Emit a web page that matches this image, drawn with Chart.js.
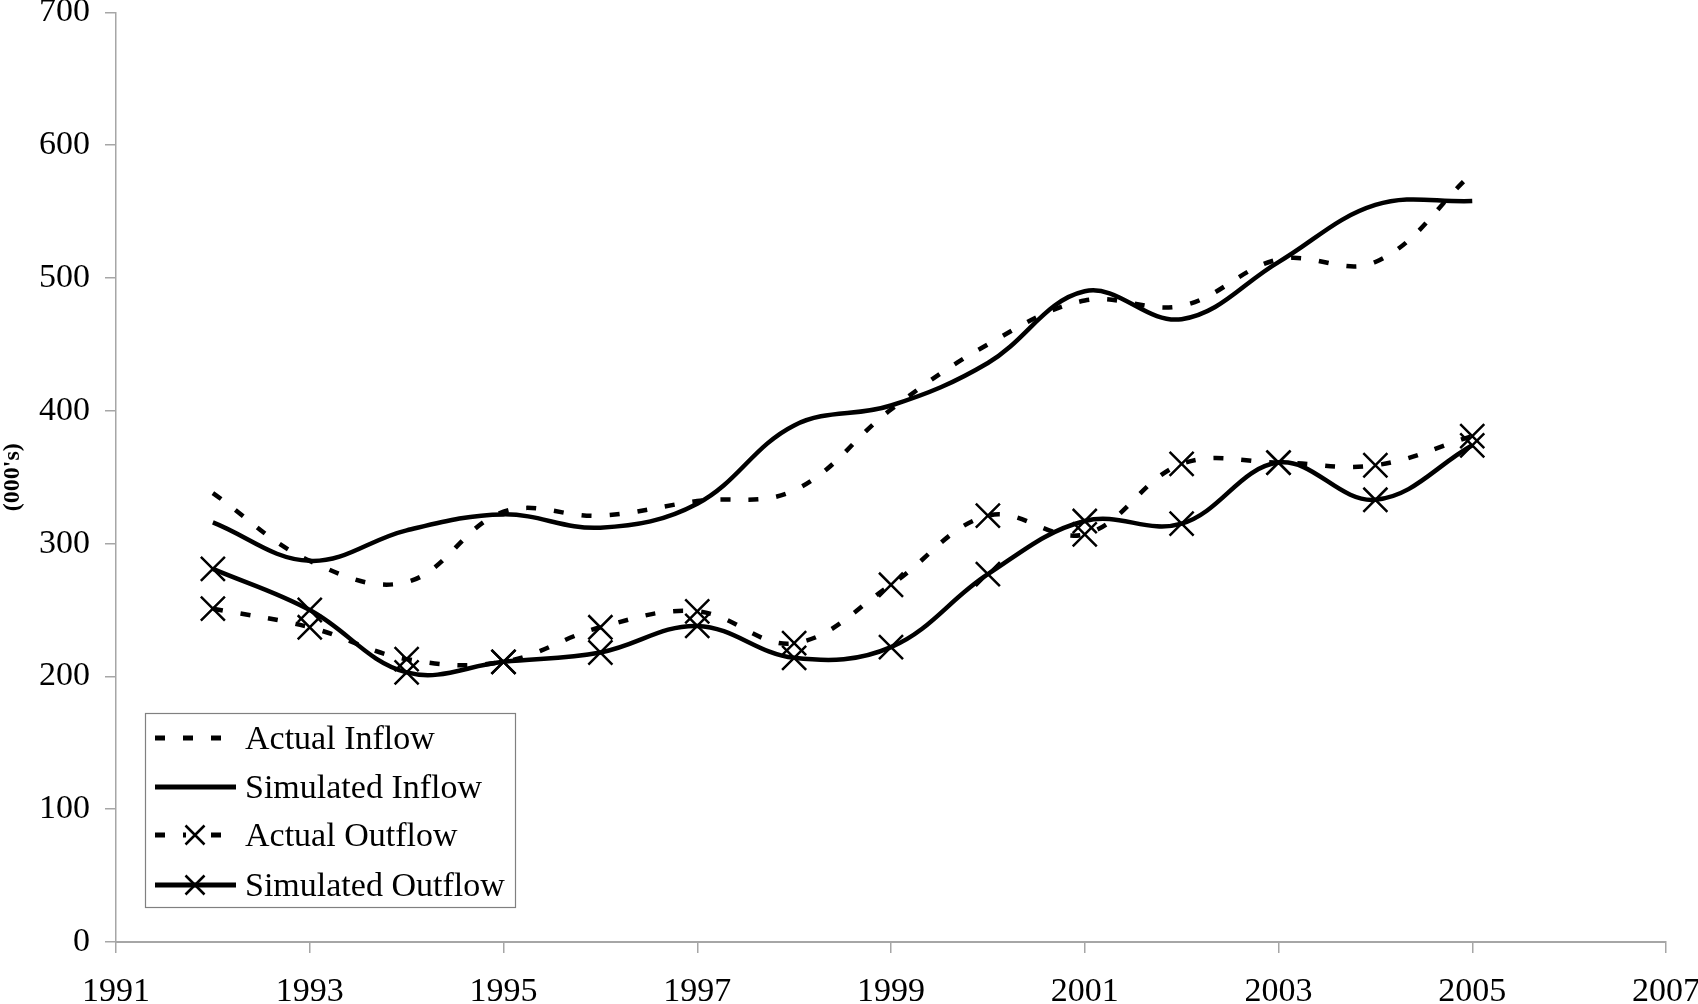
<!DOCTYPE html>
<html>
<head>
<meta charset="utf-8">
<script src="https://cdn.jsdelivr.net/npm/chart.js@4"></script>
<style>
  html, body { margin: 0; padding: 0; background: #fff; overflow: hidden; }
  #wrap { position: absolute; left: 0; top: -23px; width: 1719px; height: 1027px; }
</style>
</head>
<body>
<div id="wrap"><canvas id="c"></canvas></div>
<script>
const years = [1992, 1993, 1994, 1995, 1996, 1997, 1998, 1999, 2000, 2001, 2002, 2003, 2004, 2005];
const actualInflow    = [338, 287, 271, 324, 321, 332, 340, 401, 450, 483, 479, 514, 512, 579];
const simulatedInflow = [316, 287, 310, 322, 312, 330, 389, 404, 436, 490, 469, 512, 555, 558];
const actualOutflow   = [251, 237, 213, 211, 237, 249, 225, 269, 321, 307, 360, 361, 359, 381];
const simulatedOutflow= [281, 250, 203, 211, 218, 238, 214, 222, 277, 317, 315, 361, 333, 374];
const seriesNames = ['Actual Inflow', 'Simulated Inflow', 'Actual Outflow', 'Simulated Outflow'];
const yAxisTitle = "(000's)";
const xMin = 1991, xMax = 2007, xStep = 2;
const yMin = 0, yMax = 700, yStep = 100;

const FONT = "'Liberation Serif', 'Times New Roman', serif";
const DASH = [10, 18];
const WRAP_TOP = -23;

function pts(arr) { return years.map((y, i) => ({ x: y, y: arr[i] })); }

const styles = [
  { dash: DASH, marker: false },
  { dash: [], marker: false },
  { dash: DASH, marker: true },
  { dash: [], marker: true }
];
const allData = [actualInflow, simulatedInflow, actualOutflow, simulatedOutflow];

const datasets = allData.map((arr, i) => ({
  label: seriesNames[i],
  data: pts(arr),
  borderColor: '#000',
  backgroundColor: '#000',
  borderWidth: 4.5,
  borderDash: styles[i].dash,
  tension: 0.38,
  fill: false,
  pointStyle: 'crossRot',
  pointRadius: styles[i].marker ? 17 : 0,
  pointHoverRadius: styles[i].marker ? 17 : 0,
  pointBorderWidth: 2.5,
  pointBorderColor: '#000'
}));

const legendPlugin = {
  id: 'insideLegend',
  afterDraw(chart) {
    const ctx = chart.ctx;
    const off = -WRAP_TOP;
    const bx = 145, by = 713 + off, bw = 370, bh = 194;
    ctx.save();
    ctx.fillStyle = '#fff';
    ctx.fillRect(bx, by, bw, bh);
    ctx.strokeStyle = '#808080';
    ctx.lineWidth = 1.2;
    ctx.strokeRect(bx + 0.5, by + 0.5, bw, bh);
    const rowY = [738, 787, 835, 885];
    ctx.font = '34px ' + FONT;
    ctx.textBaseline = 'middle';
    ctx.fillStyle = '#000';
    for (let i = 0; i < 4; i++) {
      const y = rowY[i] + off;
      ctx.strokeStyle = '#000';
      ctx.lineWidth = 5;
      ctx.setLineDash(styles[i].dash);
      ctx.beginPath();
      ctx.moveTo(155, y);
      ctx.lineTo(236, y);
      ctx.stroke();
      ctx.setLineDash([]);
      if (styles[i].marker) {
        const cx = 195, r = 9.5;
        if (styles[i].dash.length) {
          ctx.fillStyle = '#fff';
          ctx.fillRect(cx - 9, y - 4, 18, 8);
          ctx.fillStyle = '#000';
        }
        ctx.lineWidth = 2.5;
        ctx.beginPath();
        ctx.moveTo(cx - r, y - r); ctx.lineTo(cx + r, y + r);
        ctx.moveTo(cx - r, y + r); ctx.lineTo(cx + r, y - r);
        ctx.stroke();
      }
      ctx.fillText(seriesNames[i], 245, y + 2);
    }
    ctx.restore();
  }
};

new Chart(document.getElementById('c'), {
  type: 'line',
  data: { datasets },
  plugins: [legendPlugin],
  options: {
    responsive: true,
    maintainAspectRatio: false,
    animation: false,
    devicePixelRatio: 1,
    layout: { padding: 0 },
    plugins: { legend: { display: false }, tooltip: { enabled: false } },
    scales: {
      x: {
        type: 'linear',
        min: xMin, max: xMax,
        afterFit: s => { s.height = 62; },
        ticks: { stepSize: xStep, color: '#000', font: { family: FONT, size: 34 }, padding: 19, maxRotation: 0,
                 callback: v => String(v) },
        grid: { display: true, drawOnChartArea: false, drawTicks: true, tickLength: 11, color: '#a6a6a6', lineWidth: 1.5 },
        border: { display: true, color: '#a6a6a6', width: 2 }
      },
      y: {
        min: yMin, max: yMax,
        afterFit: s => { s.width = 116; },
        ticks: { stepSize: yStep, color: '#000', font: { family: FONT, size: 34 }, padding: 15 },
        grid: { display: true, drawOnChartArea: false, drawTicks: true, tickLength: 11, color: '#a6a6a6', lineWidth: 1.5 },
        border: { display: true, color: '#a6a6a6', width: 1.5 },
        title: { display: true, text: yAxisTitle, color: '#000', font: { family: FONT, size: 24, weight: 'bold', lineHeight: 1.0 }, padding: { top: 1, bottom: 10 } }
      }
    }
  }
});
</script>
</body>
</html>
